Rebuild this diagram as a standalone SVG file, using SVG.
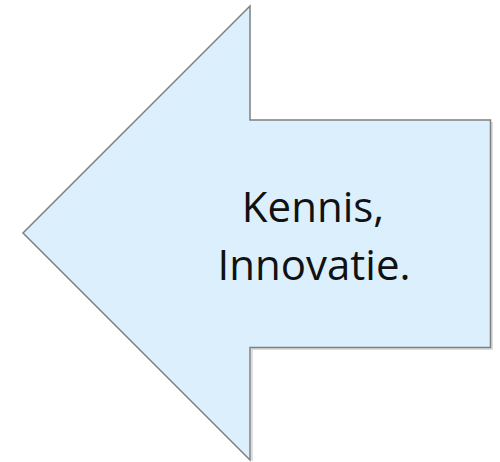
<svg xmlns="http://www.w3.org/2000/svg" width="500" height="462" viewBox="0 0 500 462">
<style>
.shape{fill:#dbf0fc;stroke:#7f7f7f;stroke-width:1.5;stroke-linejoin:miter}
.shadow{fill:none;stroke:#d4d4d4;stroke-width:1.5}
.lbl{font-family:"Open Sans","Noto Sans",sans-serif;font-size:42px;fill:#111;text-anchor:middle}
</style>
<g id="arrow">
<polyline class="shadow" points="492,122 492,349 252,349 252,461"/>
<polygon class="shape" points="250,6 250,120 490.5,120 490.5,347.5 250,347.5 250,460 23,233"/>
<text class="lbl" x="313" y="222">Kennis,</text>
<text class="lbl" x="314" y="280">Innovatie.</text>
</g>
</svg>
